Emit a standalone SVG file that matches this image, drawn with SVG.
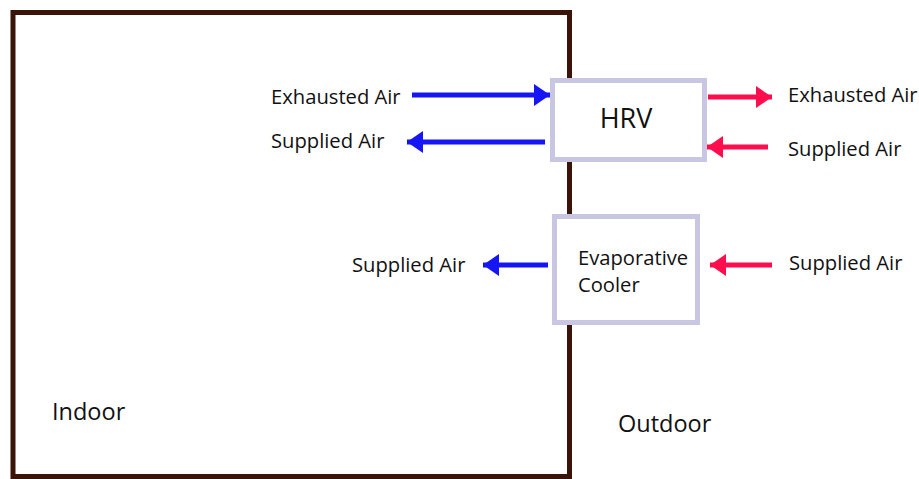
<svg xmlns="http://www.w3.org/2000/svg" width="919" height="479" viewBox="0 0 919 479">
<style>
text{font-family:"Open Sans","Noto Sans",sans-serif;fill:#111;}
.lbl{font-size:20.2px;}
.big{font-size:23.5px;}
.box{fill:#fff;stroke:#c9c6e3;stroke-width:5;}
.b{stroke:#1515f5;stroke-width:5;fill:none;}
.r{stroke:#ff0d4d;stroke-width:5;fill:none;}
</style>
<defs>
<marker id="ab" viewBox="0 0 16 22" refX="16" refY="11" markerWidth="16" markerHeight="22" markerUnits="userSpaceOnUse" orient="auto"><path d="M0,0 L16,11 L0,22 Z" fill="#1515f5"/></marker>
<marker id="ar" viewBox="0 0 16 22" refX="16" refY="11" markerWidth="16" markerHeight="22" markerUnits="userSpaceOnUse" orient="auto"><path d="M0,0 L16,11 L0,22 Z" fill="#ff0d4d"/></marker>
</defs>
<rect width="919" height="479" fill="#fff"/>
<g id="indoor">
<rect x="13" y="12.5" width="556.5" height="464" fill="none" stroke="#3a1408" stroke-width="5"/>
<text class="big" x="52" y="420">Indoor</text>
</g>
<g id="outdoor"><text class="big" x="618" y="432">Outdoor</text></g>
<g id="connectors">
<line class="b" x1="412" y1="95" x2="550" y2="95" marker-end="url(#ab)"/>
<line class="b" x1="545" y1="142" x2="407" y2="142" marker-end="url(#ab)"/>
<line class="r" x1="708" y1="97" x2="772" y2="97" marker-end="url(#ar)"/>
<line class="r" x1="768" y1="147" x2="707" y2="147" marker-end="url(#ar)"/>
<line class="b" x1="548" y1="265" x2="483" y2="265" marker-end="url(#ab)"/>
<line class="r" x1="772" y1="265" x2="710" y2="265" marker-end="url(#ar)"/>
</g>
<g id="hrv">
<rect class="box" x="552.5" y="80.5" width="152" height="79"/>
<text x="626" y="128" font-size="27" text-anchor="middle">HRV</text>
</g>
<g id="evap">
<rect class="box" x="554.5" y="216.5" width="143" height="106"/>
<text class="lbl" x="578" y="265">Evaporative</text>
<text class="lbl" x="578" y="292">Cooler</text>
</g>
<g id="labels">
<text class="lbl" x="271" y="104">Exhausted Air</text>
<text class="lbl" x="271" y="148">Supplied Air</text>
<text class="lbl" x="788" y="102">Exhausted Air</text>
<text class="lbl" x="788" y="156">Supplied Air</text>
<text class="lbl" x="352" y="272">Supplied Air</text>
<text class="lbl" x="789" y="270">Supplied Air</text>
</g>
</svg>
